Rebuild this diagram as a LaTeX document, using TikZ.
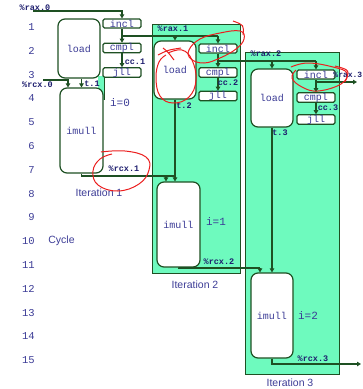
\documentclass[tikz,border=0pt]{standalone}
\usepackage{fontspec}
\setmainfont{Liberation Sans}
\newfontfamily\monofont{Liberation Mono}
\usetikzlibrary{arrows.meta,calc}
\definecolor{dkgreen}{RGB}{30,80,35}
\definecolor{mint}{RGB}{110,250,190}
\definecolor{navy}{RGB}{60,60,150}
\definecolor{lblnavy}{RGB}{30,30,110}
\definecolor{annot}{RGB}{235,30,30}
\begin{document}
\begin{tikzpicture}[x=1pt,y=-1pt,
  iterbg/.style={fill=mint,draw=dkgreen,line width=1pt},
  opbox/.style={draw=dkgreen,fill=white,line width=1.2pt,rounded corners=1.5pt,minimum width=38pt,minimum height=9pt,inner sep=0pt,text=navy,font=\monofont\fontsize{10}{10}\selectfont},
  unitbox/.style={draw=dkgreen,fill=white,line width=1.2pt,rounded corners=7pt,inner sep=0pt,text=navy,font=\monofont\fontsize{10}{10}\selectfont},
  reglbl/.style={text=lblnavy,font=\monofont\bfseries\fontsize{8.5}{8.5}\selectfont,inner sep=0pt},
  cyc/.style={text=navy,font=\monofont\fontsize{10.5}{10.5}\selectfont,anchor=east,inner sep=0pt},
  itlbl/.style={text=navy,font=\fontsize{10.5}{10.5}\selectfont,inner sep=0pt},
  ilbl/.style={text=navy,font=\monofont\fontsize{11}{11}\selectfont,inner sep=0pt},
  wire/.style={draw=dkgreen,line width=1.2pt},
  arr/.style={wire,-{Triangle[length=4pt,width=4.5pt]}},
  redmark/.style={draw=annot,line width=1pt}
]
\useasboundingbox (0,0) rectangle (363,389);

% iteration backgrounds
\draw[iterbg] (152,24) rectangle (240,273);
\draw[iterbg] (245,52) rectangle (339,374);
\fill[mint] (98,76) rectangle (104,100);
\draw[dkgreen,line width=1pt] (104,76) -- (104,100);

% cycle numbers
\foreach \n in {1,...,15}{
  \node[cyc] (c\n) at (35,{27+(\n-1)*23.8}) {\n};
}
\node[itlbl] (cyclbl) at (61.5,241) {Cycle};

% Iteration 1
\node[unitbox,minimum width=42pt,minimum height=59pt] (loadA) at (79,48.5) {load};
\node[opbox] (incA) at (122,23.5) {incl};
\node[opbox] (cmpA) at (122,48) {cmpl};
\node[opbox] (jllA) at (122,72.5) {jll};
\node[unitbox,minimum width=43pt,minimum height=85pt] (mulA) at (81.5,130.5) {imull};

% Iteration 2
\node[unitbox,minimum width=42pt,minimum height=58pt] (loadB) at (175,70) {load};
\node[opbox] (incB) at (218,48.5) {incl};
\node[opbox] (cmpB) at (218,72.5) {cmpl};
\node[opbox] (jllB) at (218,96) {jll};
\node[unitbox,minimum width=43pt,minimum height=85pt] (mulB) at (178.5,224.5) {imull};

% Iteration 3
\node[unitbox,minimum width=42pt,minimum height=58pt] (loadC) at (272,98) {load};
\node[opbox] (incC) at (316,74.5) {incl};
\node[opbox] (cmpC) at (316,97.5) {cmpl};
\node[opbox] (jllC) at (316,119.5) {jll};
\node[unitbox,minimum width=42pt,minimum height=85pt] (mulC) at (272,315.5) {imull};

% coordinates
\coordinate (rax0) at (33,11);
\coordinate (rcx0) at (43,80);
\coordinate (busA) at (122,36);
\coordinate (busB) at (218,61);
\coordinate (busC) at (316,82);
\coordinate (rcxAy) at (0,176);
\coordinate (rcxBy) at (0,268);
\coordinate (rcxCy) at (0,364);
\coordinate (raxout) at (357,82);
\coordinate (rcxout) at (361,364);

% connectors iteration 1
\draw[arr] (rax0) -| (incA.north);
\draw[arr] (incA.south) -- (cmpA.north);
\draw[arr] (cmpA.south) -- (jllA.north);
\draw[wire] (busA) -- (busA -| incB.north);
\draw[arr] (busA -| loadB.north) -- (loadB.north);
\draw[arr] (busA -| incB.north) -- (incB.north);
\draw[arr] (rcx0) -| ($(mulA.north)+(-13.5,0)$);
\draw[arr] (mulA.north |- loadA.south) -- (mulA.north);
\draw[wire] (mulA.south) -- (mulA.south |- rcxAy) -- (rcxAy -| loadB.south);
\draw[arr] ($(rcxAy -| mulB.north)+(-12.5,0)$) -- ($(mulB.north)+(-12.5,0)$);

% connectors iteration 2
\draw[arr] (incB.south) -- (cmpB.north);
\draw[arr] (cmpB.south) -- (jllB.north);
\draw[wire] (busB) -- (busB -| incC.north);
\draw[arr] (busB -| loadC.north) -- (loadC.north);
\draw[arr] (busB -| incC.north) -- (incC.north);
\draw[arr] (loadB.south) -- (loadB.south |- mulB.north);
\draw[wire] (mulB.south) -- (mulB.south |- rcxBy) -- ($(rcxBy -| mulC.north)+(-12,0)$);
\draw[arr] ($(rcxBy -| mulC.north)+(-12,0)$) -- ($(mulC.north)+(-12,0)$);

% connectors iteration 3
\draw[arr] (incC.south) -- (cmpC.north);
\draw[arr] (cmpC.south) -- (jllC.north);
\draw[arr] (busC) -- (raxout);
\draw[arr] (loadC.south) -- (mulC.north);
\draw[arr] (mulC.south) -- (mulC.south |- rcxCy) -- (rcxout);

% labels
\node[reglbl] (lrax0) at (35,8) {\%rax.0};
\node[reglbl] (lcc1) at (135,62) {cc.1};
\node[reglbl] (lrcx0) at (37.5,85) {\%rcx.0};
\node[reglbl] (lt1) at (92,84) {t.1};
\node[ilbl] (li0) at (120,103) {i=0};
\node[reglbl] (lrcx1) at (124,169) {\%rcx.1};
\node[itlbl] (lit1) at (99,193) {Iteration 1};

\node[reglbl] (lrax1) at (173,29) {\%rax.1};
\node[reglbl] (lcc2) at (228,83) {cc.2};
\node[reglbl] (lt2) at (184,106) {t.2};
\node[ilbl] (li1) at (216,222) {i=1};
\node[reglbl] (lrcx2) at (219,262) {\%rcx.2};
\node[itlbl] (lit2) at (195,285) {Iteration 2};

\node[reglbl] (lrax2) at (266,54) {\%rax.2};
\node[reglbl] (lcc3) at (328,108) {cc.3};
\node[reglbl] (lt3) at (280,133) {t.3};
\node[ilbl] (li2) at (308,316) {i=2};
\node[reglbl] (lrcx3) at (313,359) {\%rcx.3};
\node[reglbl,anchor=east,font=\monofont\bfseries\fontsize{8}{8}\selectfont] (lrax3) at (362.5,75) {\%rax.3};
\node[itlbl] (lit3) at (290,383) {Iteration 3};

% red hand annotations
\draw[redmark] plot[smooth,tension=0.7] coordinates {(101,152) (125,151) (146,157) (149,170) (139,184) (118,191) (98,185) (93,171) (100,159) (112,154)};
\draw[redmark] plot[smooth,tension=0.7] coordinates {(168,53) (182,50) (192,60) (196,80) (189,97) (173,103) (160,96) (156,78) (159,62) (166,55)};
\draw[redmark] (158,55) .. controls (168,50) .. (181,48);
\draw[redmark] (163,48) .. controls (168,52) .. (174,60);
\draw[redmark] plot[smooth cycle,tension=0.7] coordinates {(189,50) (200,39) (220,33) (240,31) (244,39) (236,49) (220,58) (204,63) (191,59)};
\draw[redmark] (233,21) .. controls (244,25) .. (243,35);
\draw[redmark] plot[smooth,tension=0.7] coordinates {(291,67) (308,63) (333,67) (347,73) (341,84) (318,91) (302,87) (292,78) (296,70)};
\draw[redmark] (335,66) .. controls (350,70) .. (345,82);
\end{tikzpicture}
\end{document}
